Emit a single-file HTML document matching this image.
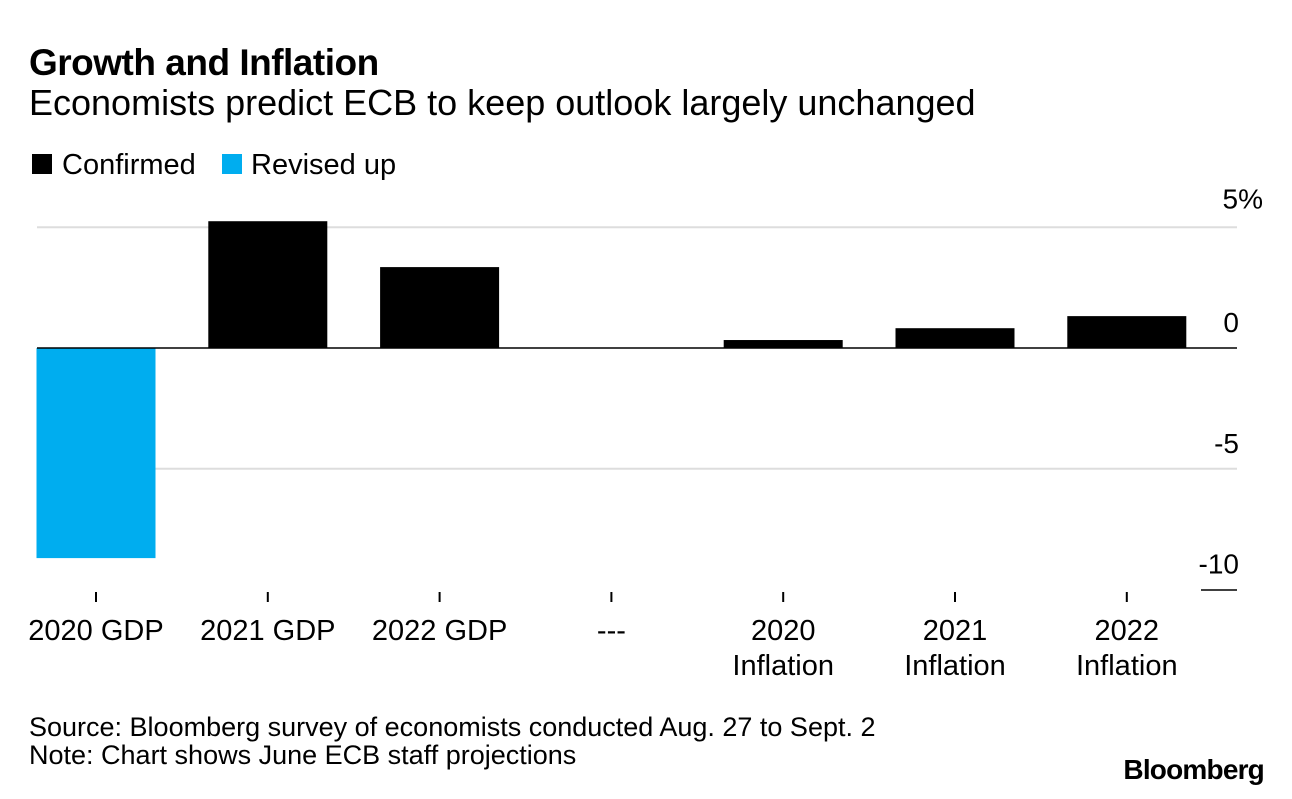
<!DOCTYPE html>
<html><head><meta charset="utf-8"><style>
body{margin:0;background:#fff;font-family:"Liberation Sans",Arial,sans-serif;}
svg text{font-family:"Liberation Sans",Arial,sans-serif;}
</style></head><body>
<svg id="c" width="1292" height="794" viewBox="0 0 1292 794">
<text x="29" y="75" font-size="37" font-weight="bold" fill="#000" letter-spacing="-0.5">Growth and Inflation</text>
<text x="29" y="115" font-size="36" fill="#000">Economists predict ECB to keep outlook largely unchanged</text>
<g>
<rect x="32" y="154" width="20" height="20" fill="#000"/>
<text x="62" y="174" font-size="29">Confirmed</text>
<rect x="222" y="154" width="20" height="20" fill="#00adef"/>
<text x="251" y="174" font-size="29">Revised up</text>
</g>
<g id="plot"></g>
<text x="29" y="736" font-size="27">Source: Bloomberg survey of economists conducted Aug. 27 to Sept. 2</text>
<text x="29" y="764" font-size="27">Note: Chart shows June ECB staff projections</text>
<text x="1264" y="779" font-size="28" font-weight="bold" text-anchor="end" letter-spacing="-0.8">Bloomberg</text>
</svg>
<script>
const categories = [["2020 GDP"],["2021 GDP"],["2022 GDP"],["---"],["2020","Inflation"],["2021","Inflation"],["2022","Inflation"]];
const values = [-8.7, 5.25, 3.35, 0, 0.33, 0.82, 1.32];
const status = ["revised","confirmed","confirmed","confirmed","confirmed","confirmed","confirmed"];
const yTicks = [5, 0, -5, -10];
const yTickLabels = ["5%","0","-5","-10"];

const NS="http://www.w3.org/2000/svg";
const g=document.getElementById('plot');
const y0=348, pxPerUnit=24.15;
const y=v=>y0 - v*pxPerUnit;
const x=i=>96 + i*171.8;
const bw=119;
function mk(t,a){const e=document.createElementNS(NS,t);for(const k in a)e.setAttribute(k,a[k]);g.appendChild(e);return e;}
yTicks.forEach((t,i)=>{
  const yy=y(t);
  if(t===-10){
    const l=mk('line',{x1:1201,x2:1237,y1:yy+0.5,y2:yy+0.5,stroke:'#000','stroke-width':1.5});
    
    
  } else if(t!==0){
    const l=mk('line',{x1:37,x2:1237,y1:yy,y2:yy,stroke:'#ddd','stroke-width':2});
    
    
  }
  const tx=mk('text',{x:t===5?1263:1239,y:yy-(t===5?19:16),'font-size':28,'text-anchor':'end'});
  tx.textContent=yTickLabels[i];
  
  
});
values.forEach((v,i)=>{
  const top=Math.min(y(v),y0), h=Math.abs(y(v)-y0);
  const r=mk('rect',{x:x(i)-bw/2,y:top,width:bw,height:h,fill:status[i]==='revised'?'#00adef':'#000'});
  
  
  const tk=mk('line',{x1:x(i),x2:x(i),y1:592,y2:602,stroke:'#000','stroke-width':2});
  
  
  categories[i].forEach((s,j)=>{
    const t=mk('text',{x:x(i),y:640+j*35,'font-size':29,'text-anchor':'middle'});
    t.textContent=s;
    
    
  });
});
const z=mk('line',{x1:37,x2:1237,y1:y0,y2:y0,stroke:'#000','stroke-width':1.5});


</script>
</body></html>
